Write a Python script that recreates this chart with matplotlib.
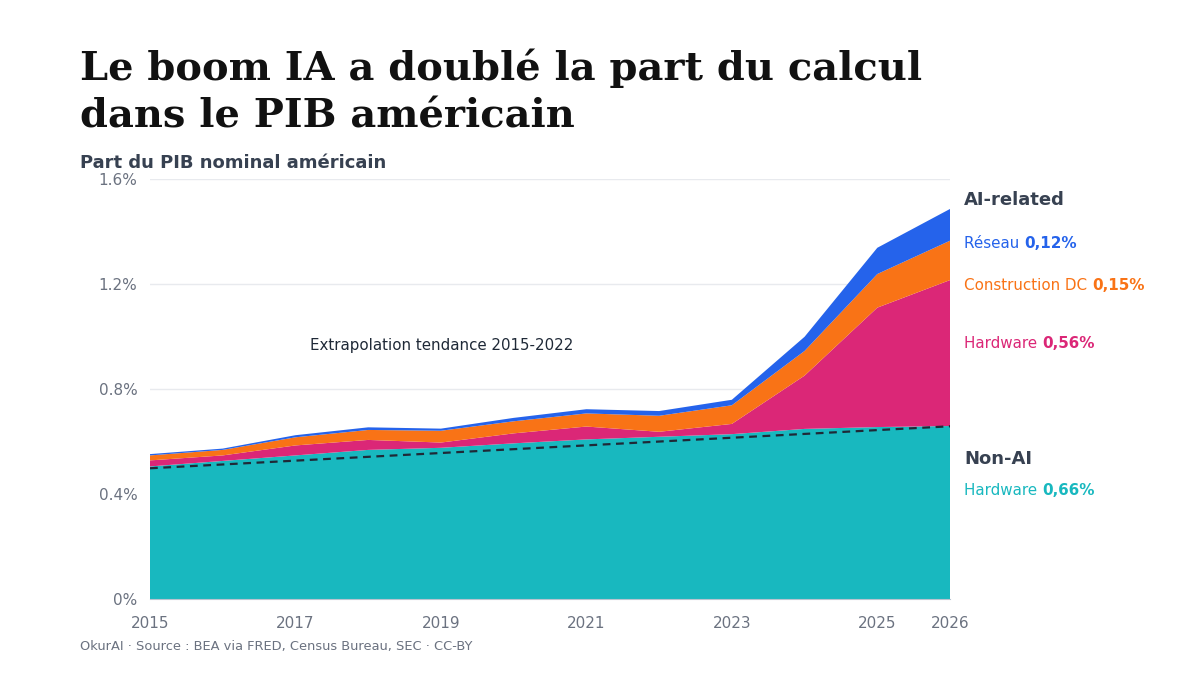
import matplotlib
matplotlib.use("Agg")
import matplotlib.pyplot as plt

# Données (part du PIB nominal, en %)
years = [2015, 2016, 2017, 2018, 2019, 2020, 2021, 2022, 2023, 2024, 2025, 2026]
hw_non_ai = [0.505, 0.526, 0.547, 0.568, 0.576, 0.593, 0.608, 0.618, 0.628, 0.648, 0.655, 0.659]
hw_ai = [0.023, 0.021, 0.038, 0.038, 0.020, 0.038, 0.049, 0.019, 0.039, 0.203, 0.455, 0.556]
construction_dc = [0.019, 0.021, 0.031, 0.038, 0.045, 0.046, 0.050, 0.061, 0.071, 0.094, 0.128, 0.150]
reseau = [0.005, 0.005, 0.008, 0.010, 0.008, 0.013, 0.016, 0.018, 0.021, 0.054, 0.100, 0.121]

trend_years = [2015, 2026]
trend_values = [0.498, 0.658]

xticks = [2015, 2017, 2019, 2021, 2023, 2025, 2026]
yticks = [0, 0.4, 0.8, 1.2, 1.6]
ytick_labels = ["0%", "0.4%", "0.8%", "1.2%", "1.6%"]

C_TEAL = "#18b8bf"
C_PINK = "#db2777"
C_ORANGE = "#f97316"
C_BLUE = "#2563eb"
C_DARK = "#374151"
C_GRAY = "#6b7280"

fig = plt.figure(figsize=(12, 6.75), dpi=100)
ax = fig.add_axes([0.125, 0.1126, 0.6667, 0.6222])

ax.stackplot(years, hw_non_ai, hw_ai, construction_dc, reseau,
             colors=[C_TEAL, C_PINK, C_ORANGE, C_BLUE], linewidth=0, zorder=2)
ax.plot(trend_years, trend_values, color="#1f2937", lw=1.6, ls=(0, (3.5, 2.5)), zorder=3)

ax.set_xlim(2015, 2026)
ax.set_ylim(0, 1.6)
ax.set_xticks(xticks)
ax.set_xticklabels([str(y) for y in xticks])
ax.set_yticks(yticks)
ax.set_yticklabels(ytick_labels)
ax.tick_params(length=0, labelsize=11, colors=C_GRAY)
ax.tick_params(axis="x", pad=12)
ax.tick_params(axis="y", pad=9)
ax.grid(axis="y", color="#e8eaee", lw=1, zorder=0)
for s in ["top", "right", "left"]:
    ax.spines[s].set_visible(False)
ax.spines["bottom"].set_color("#b8c4d0")
ax.spines["bottom"].set_zorder(4)

ax.text(2017.2, 0.965, "Extrapolation tendance 2015-2022", fontsize=10.8, color="#1f2937",
        va="center", ha="left")

# Titres
fig.text(80 / 1200, 1 - 128 / 675, "Le boom IA a doublé la part du calcul\ndans le PIB américain",
         family="DejaVu Serif", weight="bold", fontsize=28.8, color="#111111",
         va="baseline", ha="left", linespacing=1.34)
fig.text(80 / 1200, 1 - 168 / 675, "Part du PIB nominal américain", fontsize=13,
         weight="bold", color=C_DARK, ha="left", va="baseline")
fig.text(80 / 1200, 1 - 650 / 675, "OkurAI · Source : BEA via FRED, Census Bureau, SEC · CC-BY",
         fontsize=9.4, color=C_GRAY, ha="left", va="baseline")

# Étiquettes à droite
lx = 964 / 1200
fig.text(lx, 1 - 205 / 675, "AI-related", fontsize=13, weight="bold", color=C_DARK)
fig.text(lx, 1 - 464 / 675, "Non-AI", fontsize=13, weight="bold", color=C_DARK)

labels = [
    ("Réseau ", reseau[-1], C_BLUE, 248),
    ("Construction DC ", construction_dc[-1], C_ORANGE, 290),
    ("Hardware ", hw_ai[-1], C_PINK, 348),
    ("Hardware ", hw_non_ai[-1], C_TEAL, 495),
]
for name, val, col, ypix in labels:
    t = fig.text(lx, 1 - ypix / 675, name, fontsize=10.9, color=col, va="baseline")
    pct = ("%.2f%%" % val).replace(".", ",")
    ax.annotate(pct, xy=(1, 0), xycoords=t, fontsize=10.9, weight="bold", color=col,
                va="bottom", ha="left", annotation_clip=False)

fig.savefig("out.png", dpi=100)
